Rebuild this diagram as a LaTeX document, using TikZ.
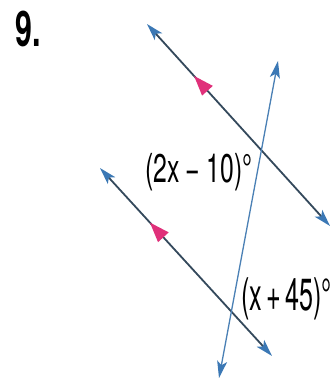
\documentclass[tikz,border=0pt]{standalone}
\usepackage{fontspec}
\setmainfont{TeX Gyre Heros}
\usetikzlibrary{arrows.meta,decorations.markings}
\definecolor{linedark}{HTML}{34495C}
\definecolor{transblue}{HTML}{4A80B5}
\definecolor{tipblue}{HTML}{3B78B5}
\definecolor{markpink}{HTML}{E0307A}
\tikzset{
  bluetip/.tip={Stealth[length=17pt,width=10pt,inset=4pt,color=tipblue]},
  parline/.style={draw=linedark,line width=1.8pt,bluetip-bluetip,postaction={decorate}},
  transline/.style={draw=transblue,line width=1.3pt,bluetip-bluetip},
  lbl/.style={inner sep=0pt,anchor=base west},
  pinkmark/.style={decoration={markings,mark=at position #1 with {\arrowreversed{Triangle[length=20pt,width=14pt,color=markpink]}}}}
}
\begin{document}
\begin{tikzpicture}[x=1pt,y=-1pt]
\useasboundingbox[fill=white] (0,0) rectangle (331,382);
% endpoints
\coordinate (A1) at (147,24);
\coordinate (A2) at (330,226);
\coordinate (B1) at (100,168);
\coordinate (B2) at (272,356);
\coordinate (T1) at (278,61);
\coordinate (T2) at (219,378);
% lines
\draw[parline,pinkmark=0.257] (A1) -- (A2);
\draw[parline,pinkmark=0.29] (B1) -- (B2);
\draw[transline] (T2) -- (T1);
% labels
\node[lbl] (num) at (15,47) {\fontsize{49}{49}\selectfont\bfseries\scalebox{0.62}[1]{9.}};
\node[lbl] (l1) at (145,182) {\fontsize{40}{40}\selectfont\scalebox{0.62}[1]{(2x\hspace{0.25em}−\hspace{0.25em}10)°}};
\node[lbl] (l2) at (241,310) {\fontsize{45}{45}\selectfont\scalebox{0.56}[1]{(x\,+\,45)°}};
\end{tikzpicture}
\end{document}
